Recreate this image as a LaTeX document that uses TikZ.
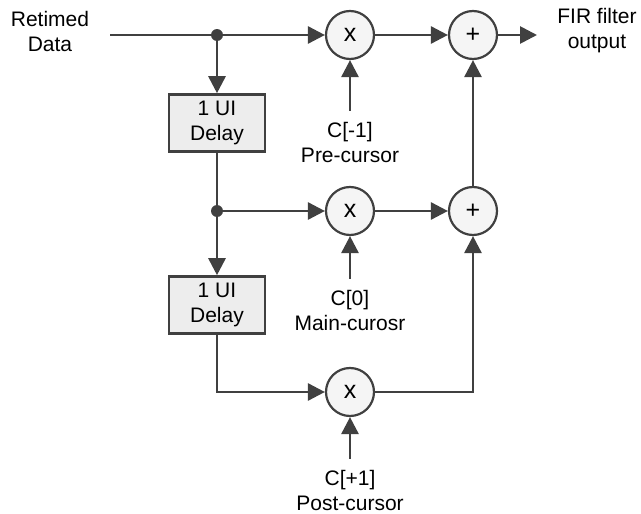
\documentclass[tikz,border=0pt]{standalone}
\usepackage{fontspec}
\setmainfont{Liberation Sans}
\usetikzlibrary{arrows.meta}
\definecolor{wirecol}{HTML}{404040}
\begin{document}
\begin{tikzpicture}[x=1pt,y=-1pt,>={Triangle[length=17pt,width=17pt]},
  wire/.style={draw=wirecol,line width=2.8pt},
  mult/.style={circle,draw=wirecol,line width=2.2pt,fill=black!4,minimum size=48pt,inner sep=0pt,font=\fontsize{25}{25}\selectfont},
  delay/.style={rectangle,draw=wirecol,line width=2.6pt,fill=black!7,minimum width=96pt,minimum height=57pt,inner sep=0pt,align=center,font=\fontsize{21}{25}\selectfont},
  lbl/.style={align=center,inner sep=0pt,font=\fontsize{21}{25}\selectfont},
  coef/.style={lbl,inner ysep=11pt},
  dot/.style={circle,fill=wirecol,inner sep=0pt,minimum size=12pt}]
\useasboundingbox (0,0) rectangle (641,514);

\node[lbl] (retimed) at (50,31) {Retimed\\Data};
\coordinate (in) at (110,35);
\node[dot] (split1) at (217,35) {};
\node[mult] (mul1) at (350,35) {x};
\node[mult] (add1) at (473,35) {+};
\coordinate (out) at (537,35);
\node[lbl] (firout) at (597,31) {FIR filter\\output};

\node[delay] (delay1) at (217,123) {1 UI\\Delay};
\node[coef] (coef1) at (350,142) {C[-1]\\Pre-cursor};

\node[dot] (split2) at (217,211) {};
\node[mult] (mul2) at (350,211) {x};
\node[mult] (add2) at (473,211) {+};

\node[delay] (delay2) at (217,305) {1 UI\\Delay};
\node[coef] (coef2) at (350,310) {C[0]\\Main-curosr};

\node[mult] (mul3) at (350,392) {x};
\node[coef] (coef3) at (350,490) {C[+1]\\Post-cursor};

\draw[wire] (in) -- (split1);
\draw[wire,->] (split1) -- (mul1);
\draw[wire,->] (mul1) -- (add1);
\draw[wire,->] (add1) -- (out);
\draw[wire,->] (split1) -- (delay1);
\draw[wire,->] (coef1) -- (mul1);

\draw[wire] (delay1) -- (split2);
\draw[wire,->] (split2) -- (mul2);
\draw[wire,->] (mul2) -- (add2);
\draw[wire,->] (add2) -- (add1);
\draw[wire,->] (split2) -- (delay2);
\draw[wire,->] (coef2) -- (mul2);

\draw[wire,->] (delay2) |- (mul3);
\draw[wire,->] (mul3) -| (add2);
\draw[wire,->] (coef3) -- (mul3);
\end{tikzpicture}
\end{document}
